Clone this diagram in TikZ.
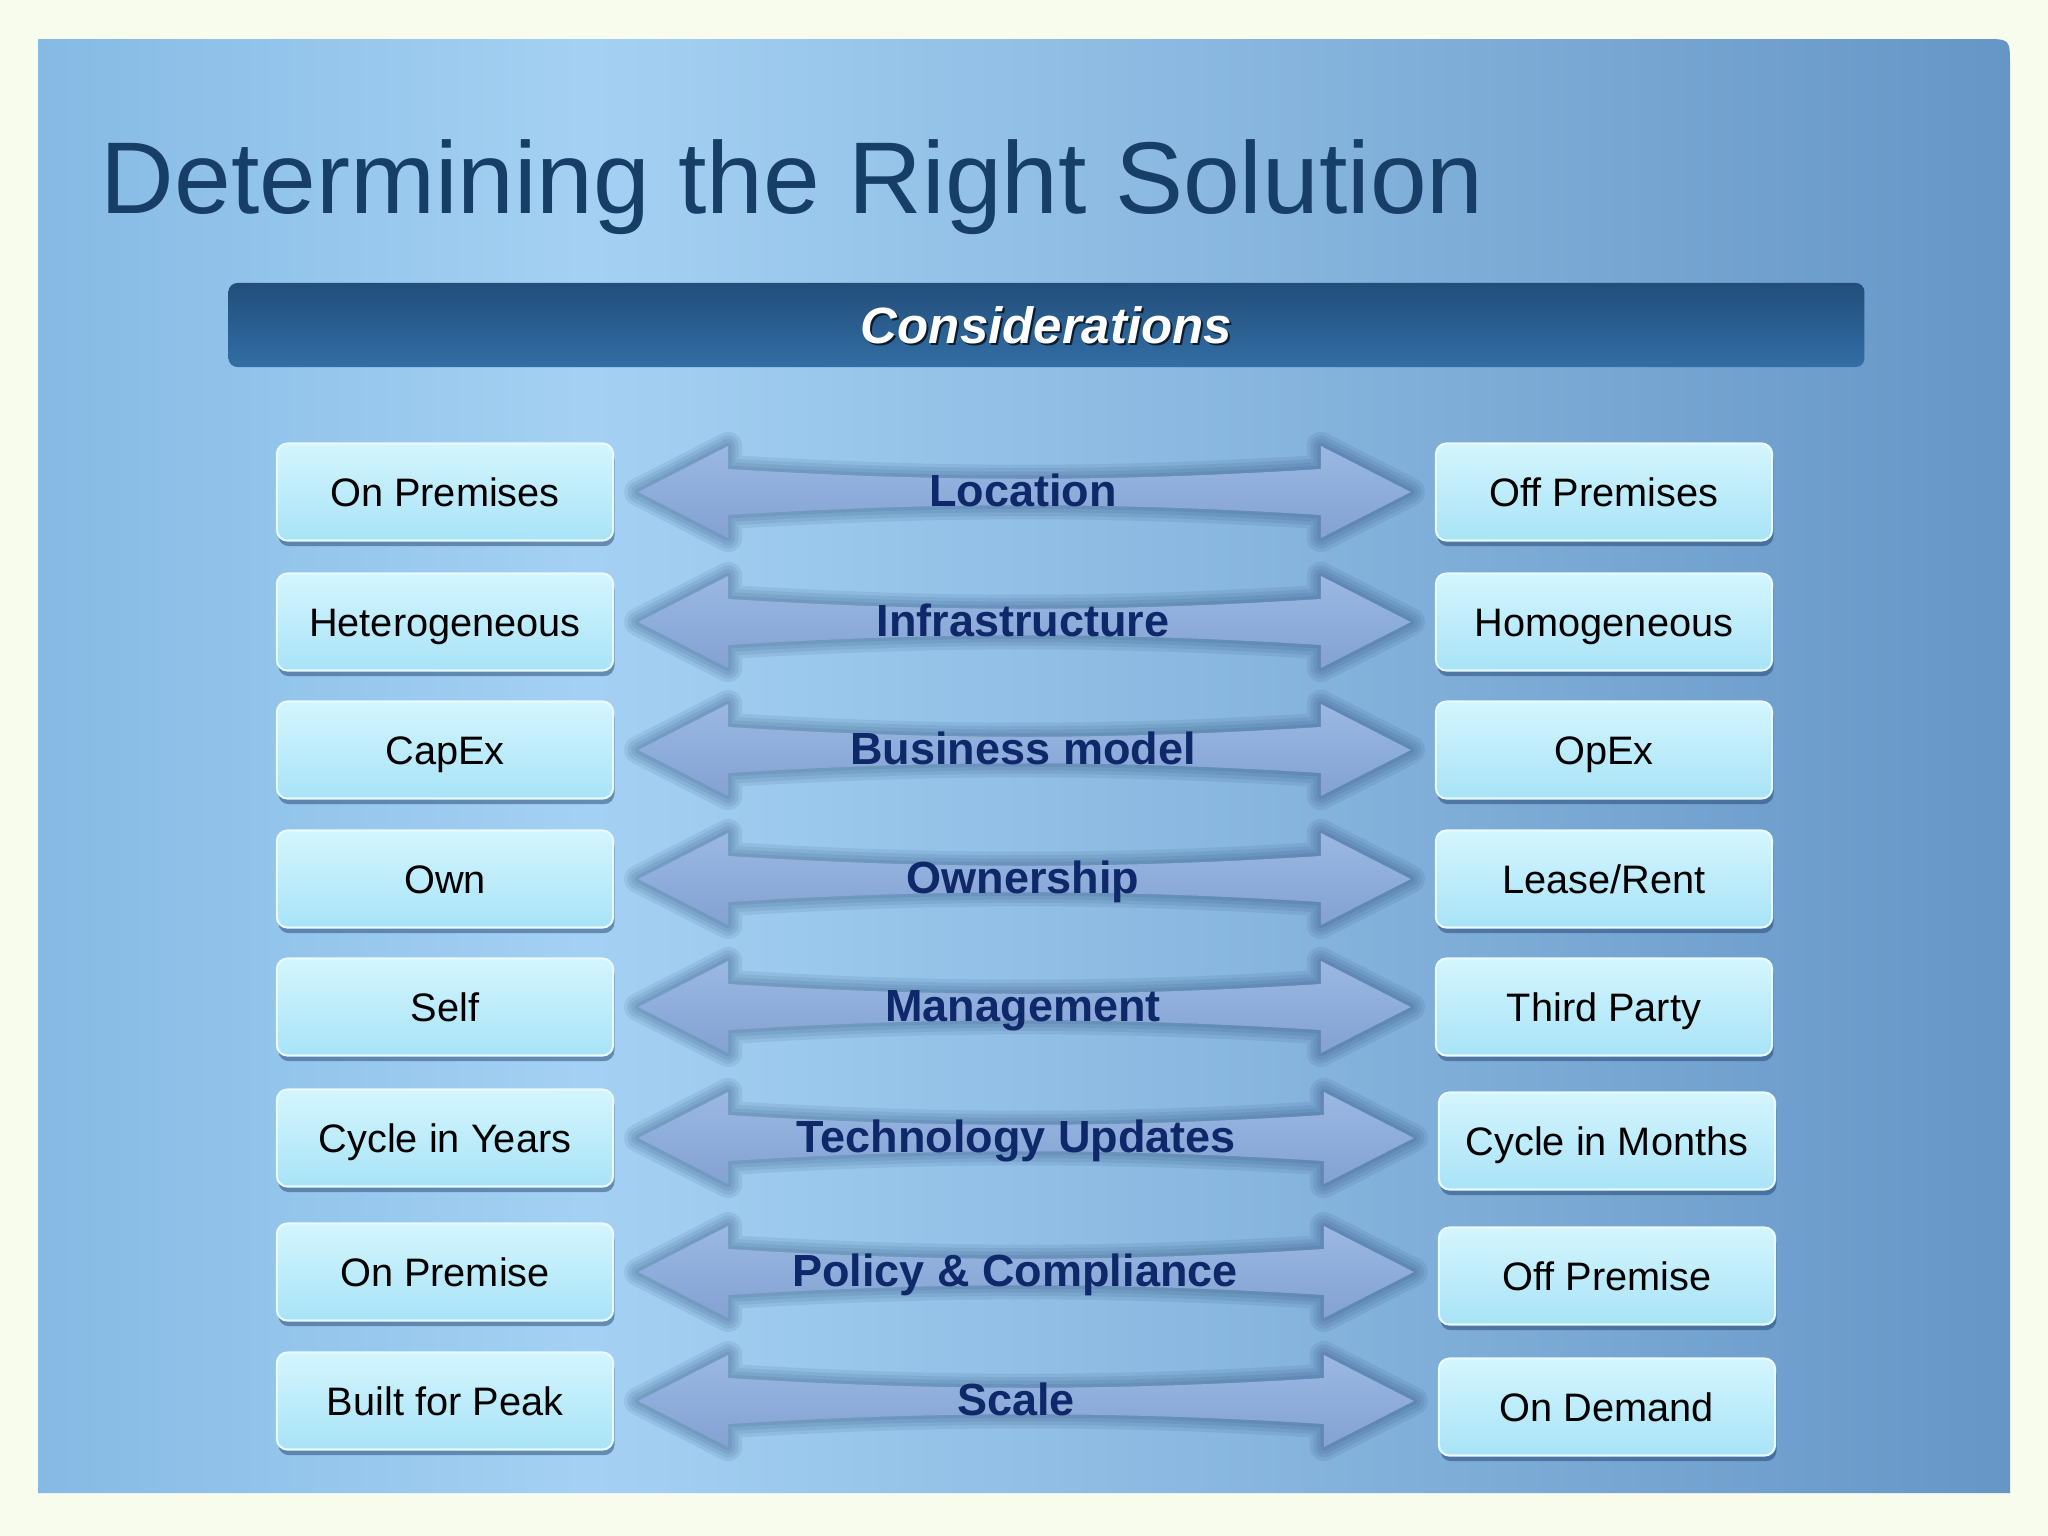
\documentclass[tikz,border=0pt]{standalone}
\usepackage{fontspec}
\setmainfont{Liberation Sans}
\usepackage{tikz}
\usetikzlibrary{calc,positioning,shadows}
\definecolor{pagebg}{RGB}{248,252,236}
\definecolor{panelL}{RGB}{134,186,228}
\definecolor{panelM}{RGB}{164,209,243}
\definecolor{panelR}{RGB}{102,150,198}
\definecolor{titleblue}{RGB}{22,62,102}
\definecolor{barT}{RGB}{34,78,122}
\definecolor{barM}{RGB}{10,59,108}
\definecolor{barB}{RGB}{50,110,165}
\definecolor{boxT}{RGB}{212,245,253}
\definecolor{boxB}{RGB}{168,227,247}
\definecolor{boxedge}{RGB}{230,250,255}
\definecolor{arrowT}{RGB}{154,184,226}
\definecolor{arrowB}{RGB}{132,162,210}
\definecolor{labelnavy}{RGB}{14,40,105}
\definecolor{glow}{RGB}{25,55,100}

\pgfdeclarehorizontalshading{panelshade}{100bp}{color(0bp)=(panelL); color(25bp)=(panelL); color(39bp)=(panelM); color(75bp)=(panelR); color(100bp)=(panelR)}

% double arrow between two coordinates
\newcommand{\pairarrow}[2]{(#1) -- ($(#1)+(90,-46)$) -- ($(#1)+(90,-23)$)
  .. controls ($(#1)+(300,-10)$) and ($(#2)+(-300,-10)$) .. ($(#2)+(-90,-23)$)
  -- ($(#2)+(-90,-46)$) -- (#2) -- ($(#2)+(-90,46)$) -- ($(#2)+(-90,23)$)
  .. controls ($(#2)+(-300,10)$) and ($(#1)+(300,10)$) .. ($(#1)+(90,23)$)
  -- ($(#1)+(90,46)$) -- cycle}

\tikzset{
  optbox/.style={rounded corners=3pt, minimum width=3.36cm, minimum height=0.97cm,
    top color=boxT, bottom color=boxB, draw=boxedge, line width=0.6pt,
    font=\fontsize{11.3}{13}\selectfont, text height=8.1pt, text depth=0pt,
    drop shadow={shadow xshift=0.4pt, shadow yshift=-1.6pt, opacity=0.45, fill=glow}},
  pairlabel/.style={font=\bfseries\fontsize{12.8}{15}\selectfont, text=labelnavy,
    text height=9.2pt, text depth=0pt},
  dblarrow/.style={top color=arrowT, bottom color=arrowB},
  arrowglow/.style={draw=glow, line join=round, opacity=0.09}
}

\begin{document}
\begin{tikzpicture}[x=0.01cm, y=-0.01cm]
  \useasboundingbox (0,0) rectangle (2048,1536);
  \fill[pagebg] (0,0) rectangle (2048,1536);
  \shade[shading=panelshade] (38,1493) -- (38,39) -- (1984,39)
        .. controls (2010,39) .. (2010,65) -- (2010,1493) -- cycle;

  \node[anchor=base west, inner sep=0, text=titleblue, font=\fontsize{29}{34}\selectfont]
        (title) at (100,213) {Determining the Right Solution};

  \node[rounded corners=2.5pt, minimum width=16.35cm, minimum height=0.84cm,
        top color=barT, middle color=barM, bottom color=barB] (bar) at (1046.5,325) {};
  \node[text=black, opacity=0.7, font=\bfseries\itshape\fontsize{14.5}{17}\selectfont]
        (consh) at ($(bar)+(2,2)$) {Considerations};
  \node[text=white, font=\bfseries\itshape\fontsize{14.5}{17}\selectfont]
        (cons) at (bar) {Considerations};

  \foreach \i/\ly/\ry/\rx/\lt/\ct/\cx/\rt in {
      1/492/492/1604/On Premises/Location/1023/Off Premises,
      2/622/622/1604/Heterogeneous/Infrastructure/1023/Homogeneous,
      3/750/750/1604/CapEx/Business model/1023/OpEx,
      4/879/879/1604/Own/Ownership/1023/Lease\slash Rent,
      5/1007/1007/1604/Self/Management/1023/Third Party,
      6/1138/1141/1607/Cycle in Years/Technology Updates/1016/Cycle in Months,
      7/1272/1276/1607/On Premise/Policy \& Compliance/1015/Off Premise,
      8/1401/1407/1607/Built for Peak/Scale/1016/On Demand}{
    \node[optbox] (L\i) at (445,\ly) {\lt};
    \node[optbox] (R\i) at (\rx,\ry) {\rt};
    \coordinate (a\i) at ($(L\i.east)+(24,0)$);
    \coordinate (b\i) at ($(a\i -| R\i.west)+(-24,0)$);
    \foreach \w in {8,6,4,2}
      \draw[arrowglow, line width=\w pt] \pairarrow{a\i}{b\i};
    \shade[dblarrow] \pairarrow{a\i}{b\i};
    \node[pairlabel] (C\i) at (\cx,\ly-2) {\ct};
  }
\end{tikzpicture}
\end{document}
